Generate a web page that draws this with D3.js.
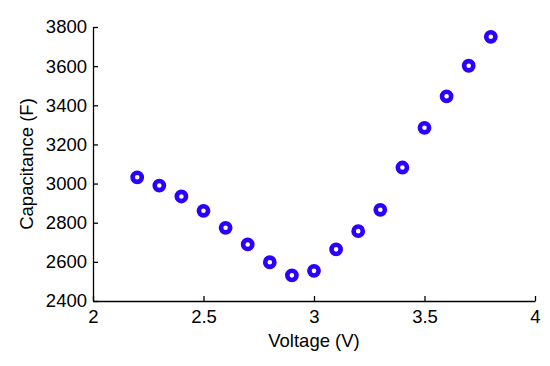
<!DOCTYPE html>
<html><head><meta charset="utf-8">
<script src="https://cdn.jsdelivr.net/npm/d3@7"></script>
<style>body{margin:0;background:#fff}svg{display:block}text{font-family:"Liberation Sans",Arial,sans-serif;fill:#000}</style>
</head><body><svg id="c" width="550" height="366"></svg>
<script>
const voltage = [2.2,2.3,2.4,2.5,2.6,2.7,2.8,2.9,3.0,3.1,3.2,3.3,3.4,3.5,3.6,3.7,3.8];
const capacitance = [3032,2990,2934,2861,2774,2689,2598,2531,2554,2664,2757,2866,3082,3285,3446,3602,3750];
const xTicks = [2,2.5,3,3.5,4];
const yTicks = [2400,2600,2800,3000,3200,3400,3600,3800];
const xLabel = "Voltage (V)";
const yLabel = "Capacitance (F)";

const svg = d3.select("#c");
const L=93, R=535, T=27, B=301;
const x = d3.scaleLinear().domain([2,4]).range([L,R]);
const y = d3.scaleLinear().domain([2400,3800]).range([B,T]);
const fs = 18.5;

const gx = svg.append("g").attr("transform",`translate(0,${B})`)
  .call(d3.axisBottom(x).tickValues(xTicks).tickFormat(d3.format("")).tickSizeInner(-5).tickSizeOuter(0).tickPadding(9));
const gy = svg.append("g").attr("transform",`translate(${L},0)`)
  .call(d3.axisLeft(y).tickValues(yTicks).tickFormat(d3.format("d")).tickSizeInner(-5).tickSizeOuter(0).tickPadding(6));
[gx,gy].forEach(g=>{
  g.selectAll("path,line").attr("stroke","#000").attr("stroke-width",1.3);
  g.selectAll("text").attr("font-size",fs).attr("font-family","Liberation Sans, Arial, sans-serif").attr("fill","#000");
});
gx.selectAll("text").attr("dy","0.71em");

svg.append("text").attr("x",(L+R)/2).attr("y",347).attr("text-anchor","middle").attr("font-size",fs).text(xLabel);
svg.append("text").attr("transform",`translate(33,${(T+B)/2}) rotate(-90)`).attr("text-anchor","middle").attr("font-size",fs).text(yLabel);

svg.append("g").selectAll("circle").data(voltage).join("circle")
  .attr("cx",(d)=>x(d)).attr("cy",(d,i)=>y(capacitance[i]))
  .attr("r",4.6).attr("fill","#fff").attr("stroke","#2a00ff").attr("stroke-width",4.6);
</script></body></html>
